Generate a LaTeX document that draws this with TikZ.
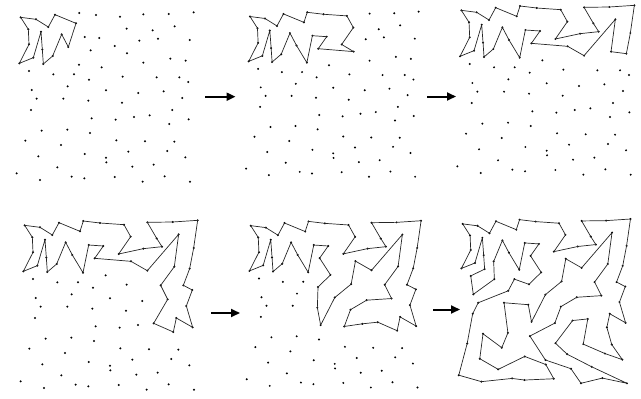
\documentclass[tikz,border=0pt]{standalone}
\usetikzlibrary{arrows.meta}
\begin{document}
\begin{tikzpicture}[x=1pt,y=-1pt,
  dot/.style={circle,fill=black,inner sep=0pt,minimum size=2.2pt},
  poly/.style={draw=black!85,line width=0.7pt,line join=round},
  flow/.style={line width=2pt,-{Triangle[length=9pt,width=8pt]}}]
\useasboundingbox (0,0) rectangle (641,399);
\def\pts{A1/32/37,A2/78/43,A3/115/66,A4/135/29,A5/198/55,A6/175/126,A7/155/88,A8/128/153,A9/100/177,A10/97/134,A11/93/80,A12/70/158,A13/28/175,A14/57/118,A15/55/73,
B1/208/24,B2/258/30,B3/330/35,B4/400/28,B5/476/27,B6/551/22,B7/350/71,B8/428/76,B9/494/64,B10/224/96,B11/268/99,B12/388/107,B13/444/101,B14/539/105,B15/314/123,B16/242/136,B17/351/145,B18/207/179,B19/275/187,B20/400/173,B21/481/161,B22/527/167,
C1/57/198,C2/130/208,C3/192/208,C4/237/224,C5/338/215,C6/440/217,C7/508/217,C8/535/231,C9/173/244,C10/65/255,C11/288/256,C12/385/264,C13/461/259,C14/517/279,C15/80/281,C16/160/281,C17/235/287,C18/336/293,C19/63/315,C20/487/315,
D1/245/340,D2/317/344,D3/372/336,D4/419/331,D5/478/357,D6/536/343,D7/95/377,D8/172/374,D9/240/384,D10/46/407,D11/153/420,D12/319/406,D13/405/409,D14/493/410,D15/85/454,D16/224/447,D17/355/440,D18/472/438,D19/526/457,D20/288/458,D21/289/472,D22/142/487,D23/367/485,D24/431/479,D25/20/505,D26/90/525,D27/185/515,D28/223/520,D29/314/516,D30/398/530,D31/464/514,D32/540/530}
\newcommand{\drawpanel}[5]{%
 \begin{scope}[shift={(#2,#3)},xscale=#4/3,yscale=#4/3]
  \foreach \n/\px/\py in \pts {\node[dot] (#1-\n) at (\px,\py) {};}
  \draw[poly] (#1-A1.center) \foreach \m in {#5} { -- (#1-\m.center) } -- cycle;
 \end{scope}}
% panel 1
\drawpanel{p1}{10}{5}{1}{A2,A3,A4,A5,A6,A7,A8,A9,A10,A11,A12,A13,A14,A15}
% panel 2
\drawpanel{p2}{239.6}{4.5}{0.975}{A2,A3,A4,A5,B1,B2,B3,B7,B15,B17,B16,B11,B10,B18,A6,A7,A8,A9,A10,A11,A12,A13,A14,A15}
% panel 3
\drawpanel{p3}{450.7}{-2}{1}{A2,A3,A4,A5,B1,B2,B3,B7,B15,B12,B13,B8,B4,B5,B6,B14,B22,B21,B9,B20,B17,B16,B11,B10,B18,A6,A7,A8,A9,A10,A11,A12,A13,A14,A15}
% panel 4
\drawpanel{p4}{14}{213}{1}{A2,A3,A4,A5,B1,B2,B3,B7,B15,B12,B13,B8,B4,B5,B6,B14,B22,C7,C8,C14,D6,C20,D5,D4,C13,C6,B21,B9,B20,B17,B16,B11,B10,B18,A6,A7,A8,A9,A10,A11,A12,A13,A14,A15}
% panel 5
\drawpanel{p5}{240.2}{213.5}{0.985}{A2,A3,A4,A5,B1,B2,B3,B7,B15,B12,B13,B8,B4,B5,B6,B14,B22,C7,C8,C14,D6,C20,D5,D4,D3,D2,C18,C12,C13,C6,B21,B9,B20,B17,C5,C11,D1,C17,C4,B19,B16,B11,B10,B18,A6,A7,A8,A9,A10,A11,A12,A13,A14,A15}
% panel 6
\drawpanel{p6}{452.3}{211.9}{0.97}{A2,A3,A4,A5,B1,B2,B3,B7,B15,B12,B13,B8,B4,B5,B6,B14,B22,C7,C8,C14,D6,C20,D5,D14,D19,D18,D13,D4,D3,D12,D17,D24,D32,D31,D30,D23,D20,D9,D2,C18,C12,C13,C6,B21,B9,B20,B17,C5,C11,D1,C17,C16,D8,D11,D7,D15,D22,D16,D21,D29,D28,D27,D26,D25,D10,C19,C15,C9,C3,C4,B19,B16,B11,B10,B18,A6,A7,A8,C2,C10,C1,A9,A10,A11,A12,A13,A14,A15}
% arrows
\coordinate (a1s) at (205,96.7); \coordinate (a1e) at (235.5,96.7);
\coordinate (a2s) at (427,96.5); \coordinate (a2e) at (456,96.5);
\coordinate (a3s) at (211,313); \coordinate (a3e) at (240,313);
\coordinate (a4s) at (433,309.5); \coordinate (a4e) at (460,309.5);
\draw[flow] (a1s) -- (a1e);
\draw[flow] (a2s) -- (a2e);
\draw[flow] (a3s) -- (a3e);
\draw[flow] (a4s) -- (a4e);
\end{tikzpicture}
\end{document}
